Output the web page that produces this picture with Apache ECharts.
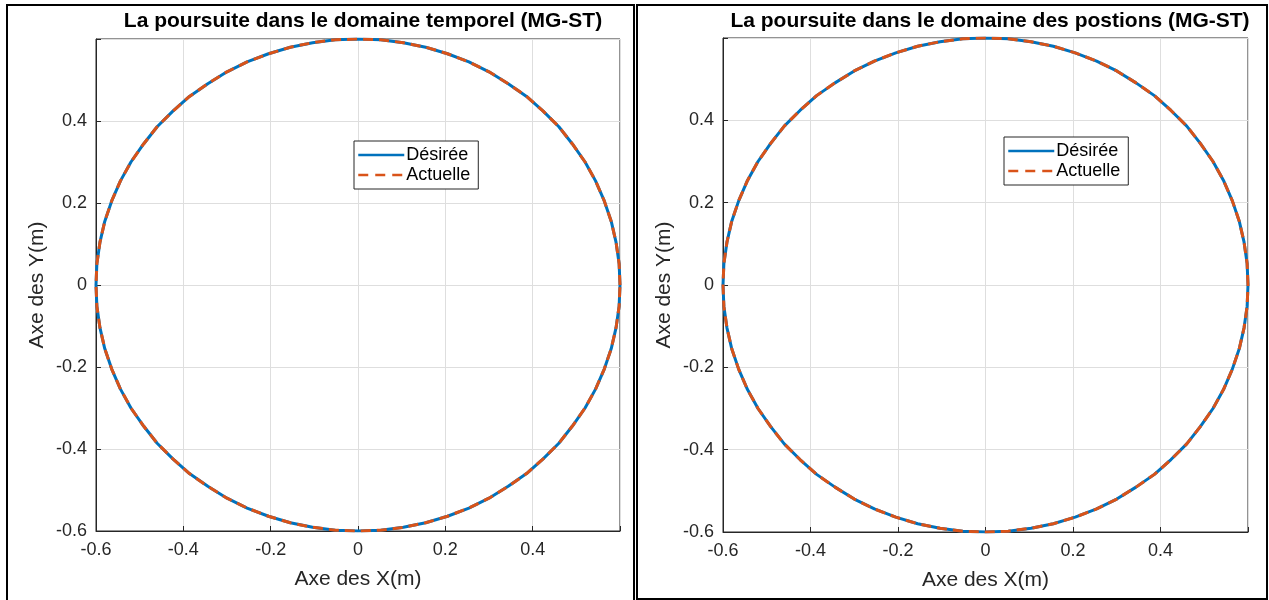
<!DOCTYPE html>
<html>
<head>
<meta charset="utf-8">
<script src="https://cdn.jsdelivr.net/npm/echarts@6/dist/echarts.min.js"></script>
<style>html,body{margin:0;padding:0;background:#fff;}#c{width:1269px;height:600px;}</style>
</head>
<body>
<div id="c"></div>
<script>
// Titles and labels
const titles = ['La poursuite dans le domaine temporel (MG-ST)', 'La poursuite dans le domaine des postions (MG-ST)'];
const xName = 'Axe des X(m)';
const yName = 'Axe des Y(m)';
const legendNames = ['Désirée', 'Actuelle'];
const tickValues = [-0.6, -0.4, -0.2, 0, 0.2, 0.4];

// Desired trajectory (circle of radius 0.6)
const desX = [0.6,0.598,0.591,0.580,0.564,0.544,0.520,0.491,0.460,0.424,0.386,0.344,0.300,0.254,0.205,0.155,0.104,0.052,0,
  -0.052,-0.104,-0.155,-0.205,-0.254,-0.300,-0.344,-0.386,-0.424,-0.460,-0.491,-0.520,-0.544,-0.564,-0.580,-0.591,-0.598,-0.6,
  -0.598,-0.591,-0.580,-0.564,-0.544,-0.520,-0.491,-0.460,-0.424,-0.386,-0.344,-0.300,-0.254,-0.205,-0.155,-0.104,-0.052,0,
  0.052,0.104,0.155,0.205,0.254,0.300,0.344,0.386,0.424,0.460,0.491,0.520,0.544,0.564,0.580,0.591,0.598,0.6];
const desY = [0,0.052,0.104,0.155,0.205,0.254,0.300,0.344,0.386,0.424,0.460,0.491,0.520,0.544,0.564,0.580,0.591,0.598,0.6,
  0.598,0.591,0.580,0.564,0.544,0.520,0.491,0.460,0.424,0.386,0.344,0.300,0.254,0.205,0.155,0.104,0.052,0,
  -0.052,-0.104,-0.155,-0.205,-0.254,-0.300,-0.344,-0.386,-0.424,-0.460,-0.491,-0.520,-0.544,-0.564,-0.580,-0.591,-0.598,-0.6,
  -0.598,-0.591,-0.580,-0.564,-0.544,-0.520,-0.491,-0.460,-0.424,-0.386,-0.344,-0.300,-0.254,-0.205,-0.155,-0.104,-0.052,0];
// Actual trajectory (overlaps the desired one)
const actX = [0.6,0.598,0.591,0.580,0.564,0.544,0.520,0.491,0.460,0.424,0.386,0.344,0.300,0.254,0.205,0.155,0.104,0.052,0,
  -0.052,-0.104,-0.155,-0.205,-0.254,-0.300,-0.344,-0.386,-0.424,-0.460,-0.491,-0.520,-0.544,-0.564,-0.580,-0.591,-0.598,-0.6,
  -0.598,-0.591,-0.580,-0.564,-0.544,-0.520,-0.491,-0.460,-0.424,-0.386,-0.344,-0.300,-0.254,-0.205,-0.155,-0.104,-0.052,0,
  0.052,0.104,0.155,0.205,0.254,0.300,0.344,0.386,0.424,0.460,0.491,0.520,0.544,0.564,0.580,0.591,0.598,0.6];
const actY = [0,0.052,0.104,0.155,0.205,0.254,0.300,0.344,0.386,0.424,0.460,0.491,0.520,0.544,0.564,0.580,0.591,0.598,0.6,
  0.598,0.591,0.580,0.564,0.544,0.520,0.491,0.460,0.424,0.386,0.344,0.300,0.254,0.205,0.155,0.104,0.052,0,
  -0.052,-0.104,-0.155,-0.205,-0.254,-0.300,-0.344,-0.386,-0.424,-0.460,-0.491,-0.520,-0.544,-0.564,-0.580,-0.591,-0.598,-0.6,
  -0.598,-0.591,-0.580,-0.564,-0.544,-0.520,-0.491,-0.460,-0.424,-0.386,-0.344,-0.300,-0.254,-0.205,-0.155,-0.104,-0.052,0];

const pairs = (xs, ys) => xs.map((x, i) => [x, ys[i]]);
const FONT = '"Liberation Sans", Arial, sans-serif';
const TXT = '#262626';
const BLUE = '#0072BD';
const ORANGE = '#D95319';

const chart = echarts.init(document.getElementById('c'), null, {renderer: 'canvas'});

const grids = [
  {left: 96, top: 39, width: 524, height: 492},
  {left: 723, top: 38, width: 525, height: 494}
];
const legendPos = [{left: 354, top: 141}, {left: 1004, top: 137}];
const titleX = [358, 985];

function fmt(v) {
  if (Math.abs(v - 0.6) < 1e-9) return '';
  if (Math.abs(v) < 1e-9) return '0';
  return (Math.round(v * 10) / 10).toString();
}

function axis(type, gi) {
  const isX = type === 'x';
  return {
    type: 'value', gridIndex: gi, min: -0.6, max: 0.6, interval: 0.2,
    name: isX ? xName : yName,
    nameLocation: 'middle',
    nameGap: isX ? 38 : 48,
    nameTextStyle: {fontFamily: FONT, fontSize: 21, color: TXT},
    axisLine: {show: true, onZero: false, lineStyle: {color: TXT, width: 1}},
    axisTick: {show: true, inside: true, length: 5, lineStyle: {color: TXT}},
    axisLabel: {formatter: fmt, fontFamily: FONT, fontSize: 18, color: TXT, margin: isX ? 10 : 9, showMaxLabel: true, showMinLabel: true},
    splitLine: {show: true, lineStyle: {color: '#dedede', width: 1}}
  };
}

const series = [];
[0, 1].forEach(gi => {
  series.push({
    name: legendNames[0], type: 'line', xAxisIndex: gi, yAxisIndex: gi,
    data: pairs(desX, desY), showSymbol: false, symbol: 'none', smooth: false,
    lineStyle: {color: BLUE, width: 3}, itemStyle: {color: BLUE}, z: 2, silent: true
  });
  series.push({
    name: legendNames[1], type: 'line', xAxisIndex: gi, yAxisIndex: gi,
    data: pairs(actX, actY), showSymbol: false, symbol: 'none', smooth: false,
    lineStyle: {color: ORANGE, width: 3, type: [10, 6]}, itemStyle: {color: ORANGE}, z: 3, silent: true
  });
});

chart.setOption({
  backgroundColor: '#fff',
  animation: false,
  title: titles.map((t, i) => ({
    text: t, left: titleX[i], top: 6, textAlign: 'center',
    textStyle: {fontFamily: FONT, fontSize: 21, fontWeight: 'bold', color: '#000'}
  })),
  grid: grids.map(g => Object.assign({show: true, borderColor: TXT, borderWidth: 1, backgroundColor: '#fff'}, g)),
  xAxis: [axis('x', 0), axis('x', 1)],
  yAxis: [axis('y', 0), axis('y', 1)],
  legend: legendPos.map(p => ({
    left: p.left, top: p.top, orient: 'vertical',
    data: [
      {name: legendNames[0], lineStyle: {color: BLUE, width: 2.5, type: 'solid'}},
      {name: legendNames[1], lineStyle: {color: ORANGE, width: 2.5, type: [10, 7]}}
    ],
    backgroundColor: '#fff', borderColor: TXT, borderWidth: 1, borderRadius: 0,
    padding: [5, 8, 5, 3], itemGap: 2, itemWidth: 46, itemHeight: 20,
    itemStyle: {opacity: 0},
    textStyle: {fontFamily: FONT, fontSize: 18, color: '#000', padding: [0, 0, 0, -3]},
    selectedMode: false
  })),
  graphic: [
    {type: 'rect', shape: {x: 7, y: 5, width: 627, height: 600}, style: {fill: 'none', stroke: '#000', lineWidth: 2}, z: 100},
    {type: 'rect', shape: {x: 637, y: 5, width: 630, height: 594}, style: {fill: 'none', stroke: '#000', lineWidth: 2}, z: 100}
  ],
  series: series
});
</script>
</body>
</html>
